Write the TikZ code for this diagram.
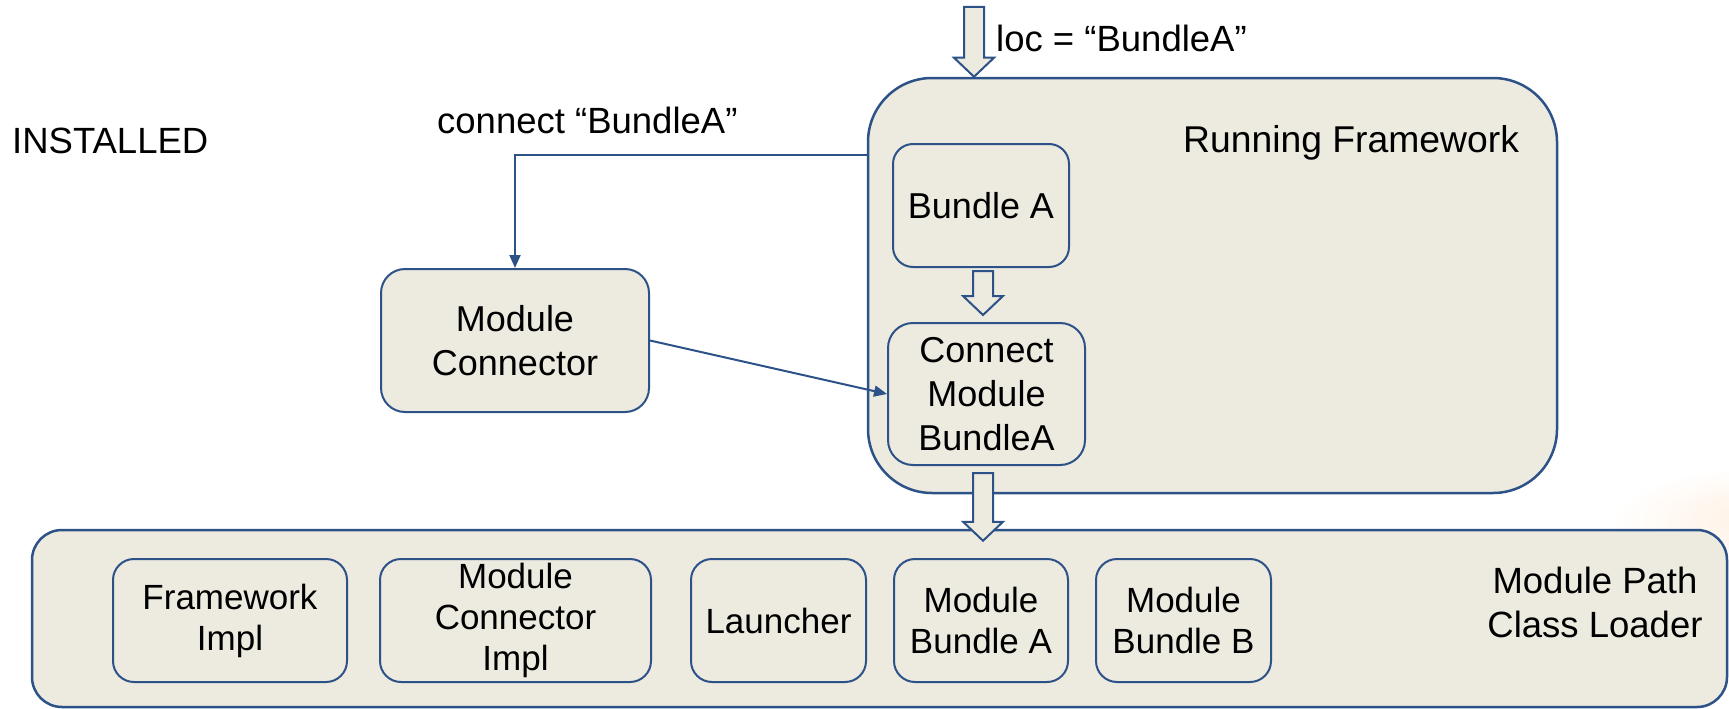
\documentclass[tikz,border=0pt]{standalone}
\usepackage{fontspec}
\setmainfont{Liberation Sans}
\usetikzlibrary{arrows.meta,calc}
\definecolor{bfill}{RGB}{237,234,224}
\definecolor{bline}{RGB}{44,82,135}
\newcommand\hollowarrow[2]{%
  \draw[harrow] let \p1=(#1), \p2=(#2) in
    (\x2-10pt,\y1) -- (\x2-10pt,\y2+19pt) -- (\x2-20pt,\y2+19pt) -- (\x2,\y2)
    -- (\x2+20pt,\y2+19pt) -- (\x2+10pt,\y2+19pt) -- (\x2+10pt,\y1) -- cycle;}
\begin{document}
\begin{tikzpicture}[x=1pt,y=-1pt,
  bigbox/.style={draw=bline,fill=bfill,line width=2.5pt,inner sep=0pt,align=center},
  box/.style={draw=bline,fill=bfill,line width=2pt,inner sep=0pt,align=center,
    font=\fontsize{36}{44}\selectfont},
  lowbox/.style={box,minimum height=123pt,rounded corners=21pt,
    font=\fontsize{35}{41}\selectfont},
  lbl/.style={inner sep=0pt,anchor=base west,font=\fontsize{36.5}{44}\selectfont},
  conn/.style={draw=bline,line width=2pt,-{Triangle[length=13pt,width=11pt]}},
  harrow/.style={draw=bline,fill=bfill,line width=2pt,line join=miter}]
\useasboundingbox (0,0) rectangle (1729,709);
\shade[inner color=orange!13!white,outer color=white] (1780,520) ellipse (170 and 55);
% big containers
\node[bigbox,minimum width=689pt,minimum height=415pt,rounded corners=64pt] (rf) at (1212.5,285.5) {};
\node[bigbox,minimum width=1695pt,minimum height=177pt,rounded corners=30pt] (mp) at (879.5,618.5) {};
% inner boxes of running framework
\node[box,minimum width=176pt,minimum height=123pt,rounded corners=20pt] (ba) at (981,205.5) {Bundle A};
\node[box,minimum width=197pt,minimum height=142pt,rounded corners=25pt] (cm) at (986.5,394) {Connect\\Module\\BundleA};
\node[box,minimum width=268pt,minimum height=143pt,rounded corners=24pt] (mc) at (515,340.5) {Module\\Connector};
% bottom row
\node[lowbox,minimum width=234pt] (fi) at (230,620.5) {Framework\\Impl};
\node[lowbox,minimum width=271pt] (mci) at (515.5,620.5) {Module\\Connector\\Impl};
\node[lowbox,minimum width=175pt] (la) at (778.5,620.5) {Launcher};
\node[lowbox,minimum width=174pt] (mba) at (981,620.5) {Module\\Bundle A};
\node[lowbox,minimum width=175pt] (mbb) at (1183.5,620.5) {Module\\Bundle B};
% labels
\node[lbl] (inst) at (12,153) {INSTALLED};
\node[lbl] (conlbl) at (437,133) {connect “BundleA”};
\node[lbl] (loclbl) at (996,52) {loc = “BundleA”};
\node[lbl,font=\fontsize{37.3}{44}\selectfont] (rflbl) at (1183,152) {Running Framework};
\node[inner sep=0pt,align=center,font=\fontsize{36.5}{44}\selectfont] (mplbl) at (1595,602) {Module Path\\Class Loader};
% connectors
\coordinate (cstart) at ($(rf.north west)+(0,78)$);
\draw[conn] (cstart) -| (mc.north);
\draw[conn] (mc.east) -- (cm.west);
% hollow block arrows
\coordinate (locin) at (974,7);
\hollowarrow{locin}{locin |- rf.north}
\coordinate (a2top) at ($(ba.south)+(2,3)$);
\coordinate (a2tip) at ($(ba.south |- cm.north)+(2,-7)$);
\hollowarrow{a2top}{a2tip}
\coordinate (a3top) at ($(cm.south)+(-3.5,7)$);
\coordinate (a3tip) at ($(a3top |- mp.north)+(0,12)$);
\hollowarrow{a3top}{a3tip}
\end{tikzpicture}
\end{document}
